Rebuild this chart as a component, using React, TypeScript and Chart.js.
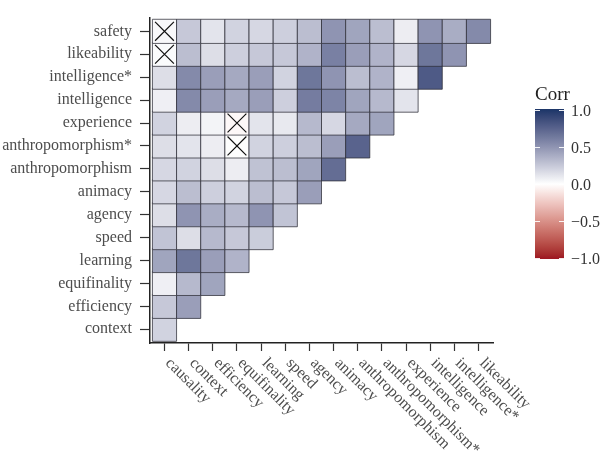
import React, { useEffect, useRef } from "react";
import { Chart, registerables } from "chart.js";

Chart.register(...registerables);

// Column variables (x axis, left to right)
const xLabels = [
  "causality", "context", "efficiency", "equifinality", "learning", "speed", "agency",
  "animacy", "anthropomorphism", "anthropomorphism*", "experience", "intelligence",
  "intelligence*", "likeability",
];

// Row variables (y axis, bottom to top)
const yLabels = [
  "context", "efficiency", "equifinality", "learning", "speed", "agency", "animacy",
  "anthropomorphism", "anthropomorphism*", "experience", "intelligence", "intelligence*",
  "likeability", "safety",
];

// Correlations per row (row variable vs. columns causality..)
const corrContext = [0.2];
const corrEfficiency = [0.25, 0.45];
const corrEquifinality = [0.07, 0.32, 0.42];
const corrLearning = [0.42, 0.65, 0.45, 0.35];
const corrSpeed = [0.27, 0.15, 0.32, 0.25, 0.23];
const corrAgency = [0.15, 0.5, 0.38, 0.32, 0.5, 0.27];
const corrAnimacy = [0.18, 0.3, 0.22, 0.2, 0.3, 0.25, 0.45];
const corrAnthropomorphism = [0.18, 0.2, 0.15, 0.08, 0.28, 0.3, 0.42, 0.7];
const corrAnthropomorphismStar = [0.15, 0.12, 0.08, 0.01, 0.2, 0.22, 0.3, 0.45, 0.75];
const corrExperience = [0.2, 0.08, 0.05, -0.03, 0.12, 0.1, 0.32, 0.18, 0.4, 0.42];
const corrIntelligence = [0.07, 0.55, 0.45, 0.4, 0.45, 0.22, 0.62, 0.58, 0.42, 0.32, 0.12];
const corrIntelligenceStar = [0.15, 0.55, 0.45, 0.4, 0.45, 0.2, 0.65, 0.5, 0.3, 0.35, 0.07, 0.8];
const corrLikeability = [0.02, 0.3, 0.15, 0.22, 0.25, 0.25, 0.35, 0.6, 0.45, 0.35, 0.18, 0.65, 0.5];
const corrSafety = [0.03, 0.25, 0.12, 0.2, 0.18, 0.22, 0.3, 0.5, 0.42, 0.3, 0.08, 0.5, 0.38, 0.55];

const corrRows = [
  corrContext, corrEfficiency, corrEquifinality, corrLearning, corrSpeed, corrAgency,
  corrAnimacy, corrAnthropomorphism, corrAnthropomorphismStar, corrExperience,
  corrIntelligence, corrIntelligenceStar, corrLikeability, corrSafety,
];

// Non-significant pairs [column, row]
const insignificant: [string, string][] = [
  ["causality", "safety"],
  ["causality", "likeability"],
  ["equifinality", "experience"],
  ["equifinality", "anthropomorphism*"],
];

const legendTicks = [1.0, 0.5, 0.0, -0.5, -1.0];

const HIGH = [30, 55, 105];
const MID = [255, 255, 255];
const LOW = [158, 25, 35];

const SERIF = '"Liberation Serif", "Times New Roman", Times, serif';

function lin(c: number) {
  c /= 255;
  return c <= 0.04045 ? c / 12.92 : Math.pow((c + 0.055) / 1.055, 2.4);
}
function unlin(c: number) {
  const v = c <= 0.0031308 ? 12.92 * c : 1.055 * Math.pow(c, 1 / 2.4) - 0.055;
  return Math.max(0, Math.min(255, Math.round(v * 255)));
}
const WX = 0.95047, WY = 1.0, WZ = 1.08883;
function f(t: number) {
  return t > 0.008856 ? Math.cbrt(t) : 7.787 * t + 16 / 116;
}
function finv(t: number) {
  return t > 0.206893 ? t * t * t : (t - 16 / 116) / 7.787;
}
function toLab(rgb: number[]) {
  const R = lin(rgb[0]), G = lin(rgb[1]), B = lin(rgb[2]);
  const X = (R * 0.4124 + G * 0.3576 + B * 0.1805) / WX;
  const Y = (R * 0.2126 + G * 0.7152 + B * 0.0722) / WY;
  const Z = (R * 0.0193 + G * 0.1192 + B * 0.9505) / WZ;
  const fx = f(X), fy = f(Y), fz = f(Z);
  return [116 * fy - 16, 500 * (fx - fy), 200 * (fy - fz)];
}
function fromLab(lab: number[]) {
  const fy = (lab[0] + 16) / 116;
  const fx = fy + lab[1] / 500;
  const fz = fy - lab[2] / 200;
  const X = finv(fx) * WX, Y = finv(fy) * WY, Z = finv(fz) * WZ;
  const R = X * 3.2406 + Y * -1.5372 + Z * -0.4986;
  const G = X * -0.9689 + Y * 1.8758 + Z * 0.0415;
  const B = X * 0.0557 + Y * -0.204 + Z * 1.057;
  return [unlin(R), unlin(G), unlin(B)];
}
const labHigh = toLab(HIGH), labMid = toLab(MID), labLow = toLab(LOW);
function colorFor(v: number) {
  const t = Math.max(-1, Math.min(1, v));
  const end = t >= 0 ? labHigh : labLow;
  const a = Math.abs(t);
  const lab = [0, 1, 2].map((i) => labMid[i] + (end[i] - labMid[i]) * a);
  const c = fromLab(lab);
  return `rgb(${c[0]},${c[1]},${c[2]})`;
}

type Cell = { x: number; y: number; v: number };
const cellData: Cell[] = [];
corrRows.forEach((row, yi) => {
  row.forEach((v, xi) => cellData.push({ x: xi, y: yi, v }));
});
const crossData = insignificant.map(([cx, ry]) => ({ x: xLabels.indexOf(cx), y: yLabels.indexOf(ry) }));

const cellRadius = (ctx: any) => {
  const s = ctx.chart.scales.x;
  if (!s) return 10;
  return Math.abs(s.getPixelForValue(1) - s.getPixelForValue(0)) / Math.SQRT2;
};
const crossRadius = (ctx: any) => {
  const s = ctx.chart.scales.x;
  if (!s) return 10;
  return (Math.abs(s.getPixelForValue(1) - s.getPixelForValue(0)) * 0.39) / Math.SQRT1_2;
};

const customPlugin = {
  id: "customDecor",
  afterDraw(chart: any) {
    const ctx = chart.ctx;
    const xs = chart.scales.x;
    const area = chart.chartArea;
    ctx.save();
    // rotated x labels
    ctx.font = `16px ${SERIF}`;
    ctx.fillStyle = "#4d4d4d";
    ctx.textAlign = "left";
    ctx.textBaseline = "top";
    xLabels.forEach((lab, i) => {
      const px = xs.getPixelForValue(i);
      ctx.save();
      ctx.translate(px + 9, area.bottom + 12);
      ctx.rotate(Math.PI / 4);
      ctx.fillText(lab, 0, 0);
      ctx.restore();
    });

    // legend
    const bx = 535, bw = 29;
    const yTop = 110, yBot = 258;
    const valToY = (v: number) => yTop + ((1 - v) / 2) * (yBot - yTop);
    const grad = ctx.createLinearGradient(0, yTop, 0, yBot);
    for (let k = 0; k <= 40; k++) {
      const v = 1 - (k / 40) * 2;
      grad.addColorStop(k / 40, colorFor(v));
    }
    ctx.fillStyle = grad;
    ctx.fillRect(bx, yTop - 1, bw, yBot - yTop + 2);
    ctx.strokeStyle = "rgba(255,255,255,0.9)";
    ctx.lineWidth = 1;
    legendTicks.forEach((v) => {
      const y = Math.round(valToY(v)) + 0.5;
      ctx.beginPath();
      ctx.moveTo(bx, y);
      ctx.lineTo(bx + 5, y);
      ctx.moveTo(bx + bw - 5, y);
      ctx.lineTo(bx + bw, y);
      ctx.stroke();
    });
    ctx.fillStyle = "#333";
    ctx.font = `16px ${SERIF}`;
    ctx.textAlign = "left";
    ctx.textBaseline = "middle";
    legendTicks.forEach((v) => {
      const txt = v < 0 ? "\u2212" + Math.abs(v).toFixed(1) : v.toFixed(1);
      ctx.fillText(txt, bx + bw + 7, valToY(v) + 2);
    });
    ctx.font = `19px ${SERIF}`;
    ctx.fillStyle = "#222";
    ctx.textBaseline = "alphabetic";
    ctx.fillText("Corr", bx, 100);
    ctx.restore();
  },
};

function buildChart(canvas: HTMLCanvasElement) {
  return new Chart(canvas, {
    type: "scatter",
    data: {
      datasets: [
        {
          data: crossData as any,
          pointStyle: "crossRot",
          radius: crossRadius,
          borderColor: "#111",
          borderWidth: 1.2,
          backgroundColor: "transparent",
        } as any,
        {
          data: cellData as any,
          pointStyle: "rect",
          radius: cellRadius,
          backgroundColor: (ctx: any) => colorFor(ctx.raw ? ctx.raw.v : 0),
          borderColor: "rgba(45,45,55,0.75)",
          borderWidth: 1,
        } as any,
      ],
    },
    options: {
      responsive: false,
      animation: false,
      events: [],
      layout: { padding: { left: 0, right: 107, top: 0, bottom: 0 } },
      plugins: { legend: { display: false }, tooltip: { enabled: false } },
      scales: {
        x: {
          type: "linear",
          min: -0.6,
          max: 13.6,
          afterBuildTicks: (s: any) => {
            s.ticks = xLabels.map((_, i) => ({ value: i }));
          },
          afterFit: (s: any) => {
            s.height = 115;
          },
          ticks: { display: false },
          grid: {
            drawOnChartArea: false,
            drawTicks: true,
            tickLength: 8,
            tickColor: "#333",
            tickWidth: 1.2,
          },
          border: { display: true, color: "#222", width: 1.5 },
        },
        y: {
          type: "linear",
          min: -0.6,
          max: 13.6,
          afterBuildTicks: (s: any) => {
            s.ticks = yLabels.map((_, i) => ({ value: i }));
          },
          afterFit: (s: any) => {
            s.width = 150;
          },
          ticks: {
            autoSkip: false,
            padding: 8,
            color: "#4d4d4d",
            font: { family: SERIF, size: 16 },
            callback: (v: any) => yLabels[Math.round(Number(v))] ?? "",
          },
          grid: {
            drawOnChartArea: false,
            drawTicks: true,
            tickLength: 10,
            tickColor: "#333",
            tickWidth: 1.2,
          },
          border: { display: true, color: "#222", width: 1.5 },
        },
      },
    } as any,
    plugins: [customPlugin],
  });
}

export default function App() {
  const ref = useRef<HTMLCanvasElement | null>(null);
  useEffect(() => {
    if (!ref.current) return;
    let chart: Chart | null = buildChart(ref.current);
    let cancelled = false;
    const fonts = (document as any).fonts;
    if (fonts && fonts.load) {
      Promise.all([
        fonts.load('16px "Liberation Serif"'),
        fonts.load('19px "Liberation Serif"'),
      ])
        .catch(() => null)
        .then(() => {
          if (cancelled || !ref.current) return;
          if (chart) chart.destroy();
          chart = buildChart(ref.current);
        });
    }
    return () => {
      cancelled = true;
      if (chart) chart.destroy();
      chart = null;
    };
  }, []);
  return (
    <div style={{ position: "fixed", left: 0, top: 0, width: 600, height: 458, background: "#fff" }}>
      <span
        style={{ fontFamily: '"Liberation Serif"', position: "absolute", left: -1000, top: -1000, fontSize: 16 }}
      >
        font preload
      </span>
      <canvas ref={ref} width={600} height={458} />
    </div>
  );
}
